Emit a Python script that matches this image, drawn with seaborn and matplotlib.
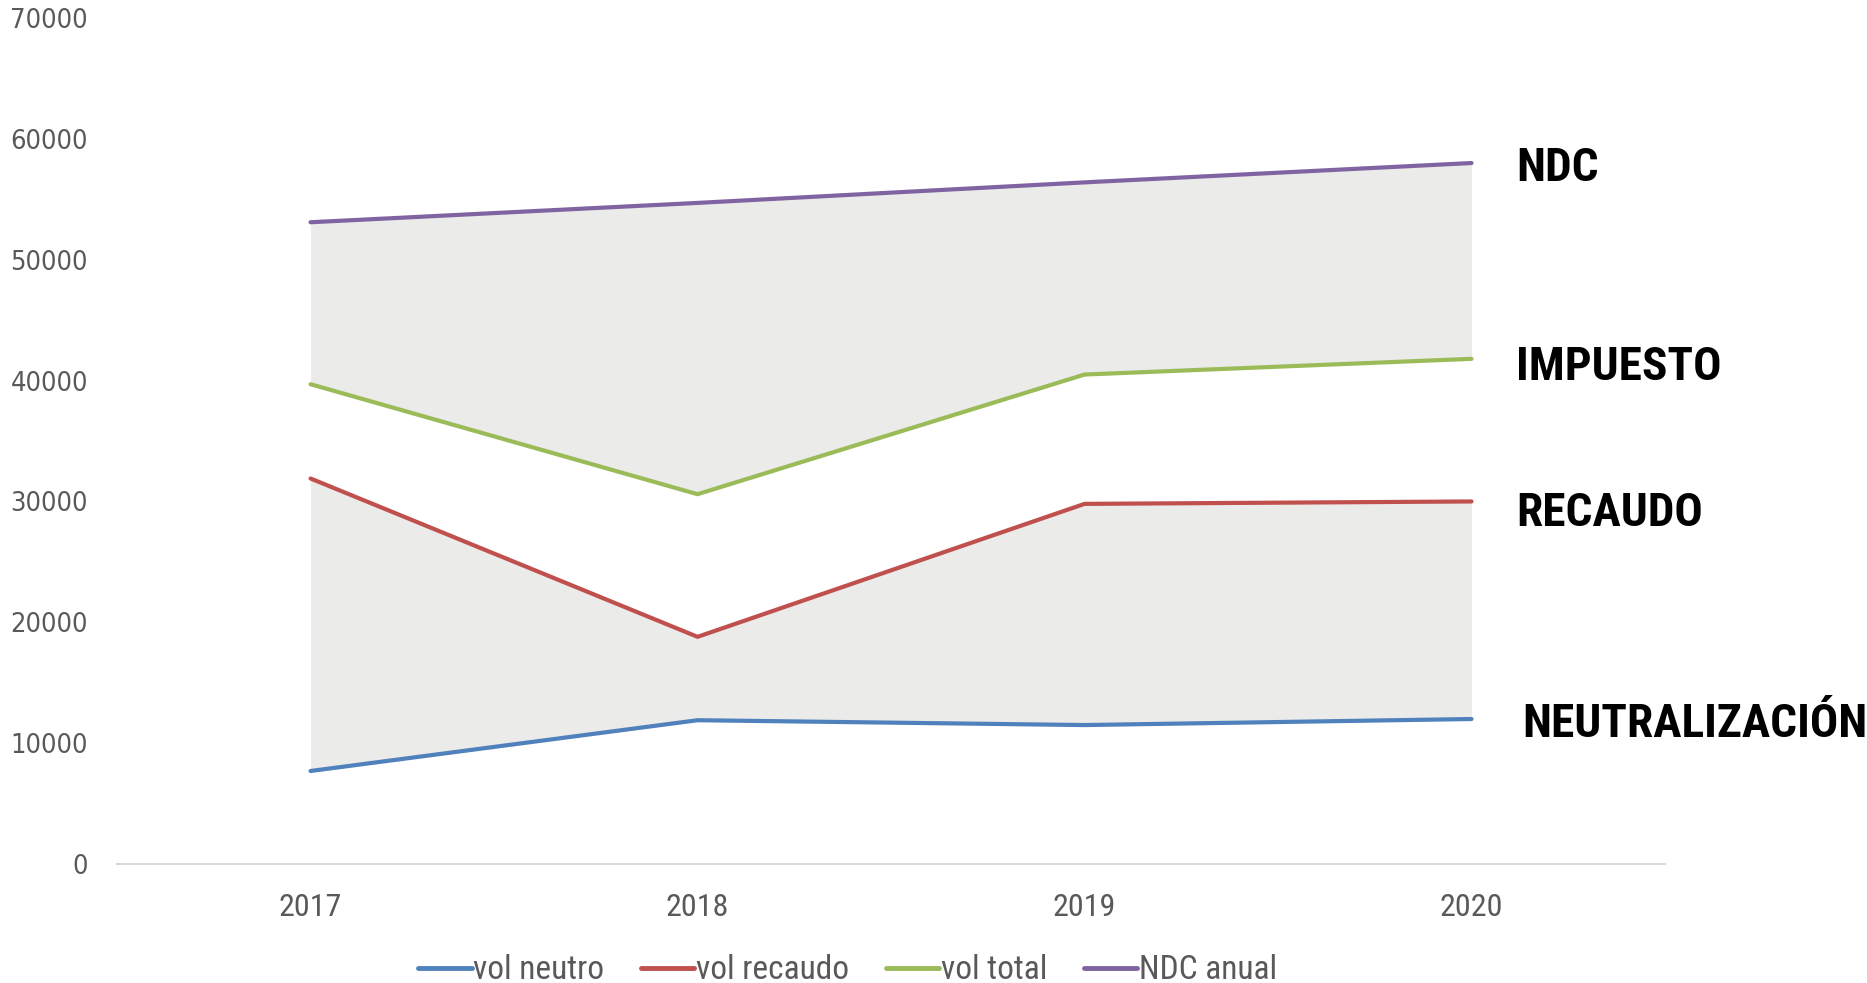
import numpy as np
import pandas as pd
import matplotlib.pyplot as plt
import seaborn as sns

# Datos
years = ["2017", "2018", "2019", "2020"]
vol_neutro = [7700, 11900, 11500, 12000]
vol_recaudo = [31900, 18800, 29800, 30000]
vol_total = [39700, 30600, 40500, 41800]
ndc_anual = [53100, 54700, 56400, 58000]

series_names = ["vol neutro", "vol recaudo", "vol total", "NDC anual"]
colors = ["#4F81BD", "#C0504D", "#9BBB59", "#8064A2"]
right_labels = ["NEUTRALIZACIÓN", "RECAUDO", "IMPUESTO", "NDC"]

sns.set_theme(style="white")
narrow = ['Roboto Condensed', 'Open Sans Condensed', 'Noto Sans', 'DejaVu Sans']
plt.rcParams['font.family'] = narrow
plt.rcParams['font.stretch'] = 'condensed'

x = np.arange(len(years))
df = pd.DataFrame({"x": np.tile(x, 4),
                   "valor": vol_neutro + vol_recaudo + vol_total + ndc_anual,
                   "serie": np.repeat(series_names, len(years))})

fig = plt.figure(figsize=(18.67, 9.83), dpi=100)
ax = fig.add_axes([0.0627, 0.121, 0.8291, 0.8607])

# Zonas sombreadas
ax.fill_between(x, vol_total, ndc_anual, color="#EBEBE9", lw=0, zorder=1)
ax.fill_between(x, vol_neutro, vol_recaudo, color="#EBEBE9", lw=0, zorder=1)

sns.lineplot(data=df, x="x", y="valor", hue="serie", palette=colors,
             linewidth=3, ax=ax, legend=False, zorder=3)

ax.set_xlim(-0.5, len(years) - 0.5)
ax.set_ylim(0, 70000)
ax.set_yticks(range(0, 70001, 10000))
ax.set_yticklabels([str(v) for v in range(0, 70001, 10000)],
                   family='DejaVu Sans', fontsize=19.5, color="#595959")
ax.set_xticks(x)
ax.set_xticklabels(years, fontsize=23, color="#595959")
ax.tick_params(axis='y', length=0, pad=21)
ax.tick_params(axis='x', length=0, pad=21)
ax.set_xlabel("")
ax.set_ylabel("")

for side in ["top", "right", "left"]:
    ax.spines[side].set_visible(False)
ax.spines["bottom"].set_color("#D9D9D9")
ax.spines["bottom"].set_linewidth(1.5)

# Etiquetas a la derecha
last_vals = [vol_neutro[-1], vol_recaudo[-1], vol_total[-1], ndc_anual[-1]]
offsets = [0, -600, -300, 0]
for lab, val, off in zip(right_labels, last_vals, offsets):
    dx = 0.13 if lab == "NEUTRALIZACIÓN" else 0.115
    ax.text(x[-1] + dx, val + off, lab, fontsize=34, fontweight='bold',
            color="black", va='center_baseline', ha='left', clip_on=False)

# Leyenda
handles = [plt.Line2D([], [], color=c, lw=3.5) for c in colors]
fig.legend(handles, series_names, loc='center', bbox_to_anchor=(0.454, 0.013),
           ncol=4, frameon=False, fontsize=24, handlelength=1.6,
           handletextpad=0.05, columnspacing=1.1, labelcolor="#595959")

fig.savefig("out.png", dpi=100)
